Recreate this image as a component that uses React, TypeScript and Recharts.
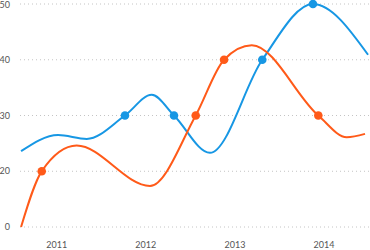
import React from "react";
import { LineChart, Line, XAxis, YAxis, CartesianGrid } from "recharts";

// x values are fractional years, y values are the series values
const blueYears = [2010.6, 2011.015, 2011.337, 2011.766, 2012.066, 2012.316, 2012.72, 2013.307, 2013.876, 2014.494];
const blueValues = [23.6, 26.5, 25.8, 30, 33.7, 30, 23.3, 40, 50, 40.9];
const blueMarked = [false, false, false, true, false, true, false, true, true, false];

const orangeYears = [2010.6, 2010.832, 2011.224, 2012.047, 2012.56, 2012.878, 2013.189, 2013.936, 2014.255, 2014.46];
const orangeValues = [0, 20, 24.6, 14.7, 30, 40, 42.6, 30, 26.1, 26.7];
const orangeMarked = [false, true, false, false, true, true, false, true, false, false];

const yearTicks = [2011, 2012, 2013, 2014];
const valueTicks = [0, 20, 30, 40, 50];

const BLUE = "#1797e4";
const ORANGE = "#ff5a19";

function build(years: number[], values: number[], marked: boolean[]) {
  return years.map((t, i) => ({ t, v: values[i], m: marked[i] }));
}

const blueData = build(blueYears, blueValues, blueMarked);
const orangeData = build(orangeYears, orangeValues, orangeMarked);

// value axis with a break between 0 and 20 (0..20 takes the room of 10 units)
function makeBreakScale(): any {
  let dom: number[] = [0, 50];
  let rng: number[] = [0, 1];
  const tf = (v: number) => (v < 20 ? 10 + v / 2 : v);
  const itf = (u: number) => (u < 20 ? (u - 10) * 2 : u);
  const s: any = (v: number) => {
    const a = tf(dom[0]);
    const b = tf(dom[dom.length - 1]);
    return rng[0] + ((tf(v) - a) / (b - a)) * (rng[rng.length - 1] - rng[0]);
  };
  s.domain = (d?: number[]) => {
    if (d === undefined) return dom.slice();
    dom = d.slice();
    return s;
  };
  s.range = (r?: number[]) => {
    if (r === undefined) return rng.slice();
    rng = r.slice();
    return s;
  };
  s.invert = (p: number) => {
    const a = tf(dom[0]);
    const b = tf(dom[dom.length - 1]);
    const u = a + ((p - rng[0]) / (rng[rng.length - 1] - rng[0])) * (b - a);
    return itf(u);
  };
  s.ticks = () => valueTicks.slice();
  s.tickFormat = () => (v: number) => String(v);
  s.copy = () => {
    const c = makeBreakScale();
    c.domain(dom);
    c.range(rng);
    return c;
  };
  return s;
}

const breakScale = makeBreakScale();

function makeDot(color: string) {
  return (p: any) => {
    const key = `d-${color}-${p.index}`;
    if (!p.payload || !p.payload.m) return <g key={key} />;
    return <circle key={key} cx={p.cx} cy={p.cy} r={4.3} fill={color} stroke="none" />;
  };
}

const tickStyle = { fontSize: 9, fill: "#555", fontFamily: "Lato, 'Open Sans', sans-serif" };

export default function App() {
  return (
    <div style={{ position: "absolute", left: 0, top: 0 }}>
      <LineChart width={370} height={250} margin={{ top: 4, right: 0, bottom: 0, left: 0 }}>
        <CartesianGrid vertical={false} stroke="#c4c4c4" strokeDasharray="1 3" />
        <XAxis
          type="number"
          dataKey="t"
          domain={[2010.588, 2014.516]}
          allowDataOverflow
          ticks={yearTicks}
          axisLine={false}
          tickLine={false}
          tickSize={0}
          tickMargin={15}
          height={23}
          tick={tickStyle}
        />
        <YAxis
          type="number"
          dataKey="v"
          domain={[0, 50]}
          ticks={valueTicks}
          scale={breakScale}
          axisLine={false}
          tickLine={false}
          tickSize={0}
          tickMargin={10}
          width={20}
          tick={tickStyle}
        />
        <Line
          data={blueData}
          dataKey="v"
          type="monotoneX"
          stroke={BLUE}
          strokeWidth={2}
          dot={makeDot(BLUE)}
          activeDot={false}
          isAnimationActive={false}
        />
        <Line
          data={orangeData}
          dataKey="v"
          type="monotoneX"
          stroke={ORANGE}
          strokeWidth={2}
          dot={makeDot(ORANGE)}
          activeDot={false}
          isAnimationActive={false}
        />
      </LineChart>
    </div>
  );
}
